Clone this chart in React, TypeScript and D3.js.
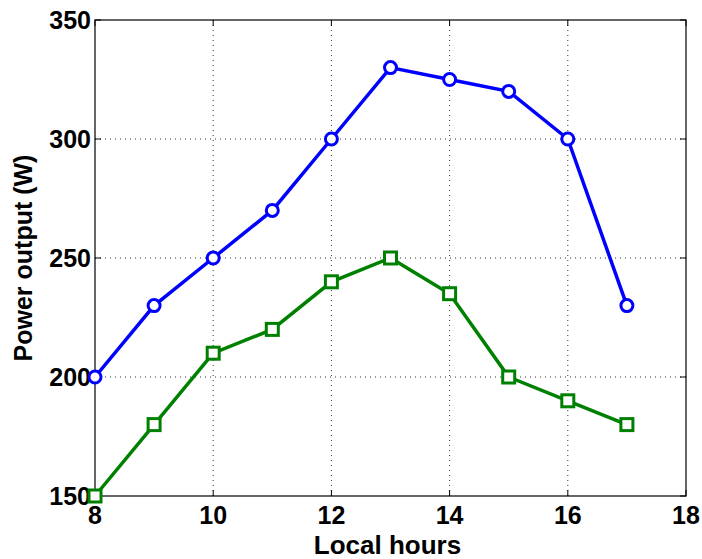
import React, { useEffect, useRef } from 'react';
import * as d3 from 'd3';

const hours = [8, 9, 10, 11, 12, 13, 14, 15, 16, 17];
const bluePower = [200, 230, 250, 270, 300, 330, 325, 320, 300, 230];
const greenPower = [150, 180, 210, 220, 240, 250, 235, 200, 190, 180];
const xTicks = [8, 10, 12, 14, 16, 18];
const yTicks = [150, 200, 250, 300, 350];

const width = 702;
const height = 559;
const margin = { left: 95, top: 20, right: 16, bottom: 63 };

export default function App() {
  const ref = useRef<SVGSVGElement>(null);

  useEffect(() => {
    const svg = d3.select(ref.current);
    svg.selectAll('*').remove();

    const x = d3.scaleLinear().domain([8, 18]).range([margin.left, width - margin.right]);
    const y = d3.scaleLinear().domain([150, 350]).range([height - margin.bottom, margin.top]);
    const font = '"Liberation Sans", Arial, sans-serif';

    const grid = svg.append('g').attr('stroke', '#333').attr('stroke-width', 1)
      .attr('stroke-dasharray', '1,4');
    grid.selectAll('.gx').data(xTicks.slice(1, -1)).join('line')
      .attr('x1', d => x(d)).attr('x2', d => x(d))
      .attr('y1', y(150)).attr('y2', y(350));
    grid.selectAll('.gy').data(yTicks.slice(1, -1)).join('line')
      .attr('x1', x(8)).attr('x2', x(18))
      .attr('y1', d => y(d)).attr('y2', d => y(d));

    // box
    svg.append('rect')
      .attr('x', x(8)).attr('y', y(350))
      .attr('width', x(18) - x(8)).attr('height', y(150) - y(350))
      .attr('fill', 'none').attr('stroke', '#000').attr('stroke-width', 1.2);

    // tick marks (inside, all four sides)
    const tk = svg.append('g').attr('stroke', '#000').attr('stroke-width', 1);
    xTicks.forEach(t => {
      tk.append('line').attr('x1', x(t)).attr('x2', x(t)).attr('y1', y(150)).attr('y2', y(150) - 6);
      tk.append('line').attr('x1', x(t)).attr('x2', x(t)).attr('y1', y(350)).attr('y2', y(350) + 6);
    });
    yTicks.forEach(t => {
      tk.append('line').attr('x1', x(8)).attr('x2', x(8) + 6).attr('y1', y(t)).attr('y2', y(t));
      tk.append('line').attr('x1', x(18)).attr('x2', x(18) - 6).attr('y1', y(t)).attr('y2', y(t));
    });

    svg.append('g').selectAll('text').data(xTicks).join('text')
      .attr('x', d => x(d)).attr('y', y(150) + 28)
      .attr('text-anchor', 'middle')
      .attr('font-family', font).attr('font-weight', 'bold').attr('font-size', 25)
      .text(d => d);
    svg.append('g').selectAll('text').data(yTicks).join('text')
      .attr('x', x(8) - 4).attr('y', d => y(d) + 9)
      .attr('text-anchor', 'end')
      .attr('font-family', font).attr('font-weight', 'bold').attr('font-size', 25)
      .text(d => d);

    svg.append('text')
      .attr('x', (x(8) + x(18)) / 2 - 3).attr('y', 554)
      .attr('text-anchor', 'middle')
      .attr('font-family', font).attr('font-weight', 'bold').attr('font-size', 26)
      .text('Local hours');
    svg.append('text')
      .attr('transform', `translate(32,${(y(150) + y(350)) / 2}) rotate(-90)`)
      .attr('text-anchor', 'middle')
      .attr('font-family', font).attr('font-weight', 'bold').attr('font-size', 25)
      .text('Power output (W)');

    const line = d3.line<number>().x((_, i) => x(hours[i])).y(d => y(d));

    svg.append('path').datum(bluePower).attr('d', line)
      .attr('fill', 'none').attr('stroke', '#0000ff').attr('stroke-width', 3.5);
    svg.append('g').selectAll('circle').data(bluePower).join('circle')
      .attr('cx', (_, i) => x(hours[i])).attr('cy', d => y(d)).attr('r', 6)
      .attr('fill', '#fff').attr('stroke', '#0000ff').attr('stroke-width', 3);

    svg.append('path').datum(greenPower).attr('d', line)
      .attr('fill', 'none').attr('stroke', '#008000').attr('stroke-width', 3.5);
    svg.append('g').selectAll('rect').data(greenPower).join('rect')
      .attr('x', (_, i) => x(hours[i]) - 6).attr('y', d => y(d) - 6)
      .attr('width', 12).attr('height', 12)
      .attr('fill', '#fff').attr('stroke', '#008000').attr('stroke-width', 3);
  }, []);

  return (
    <svg ref={ref} width={width} height={height}
      style={{ position: 'absolute', left: 0, top: 0, background: '#fff' }} />
  );
}
